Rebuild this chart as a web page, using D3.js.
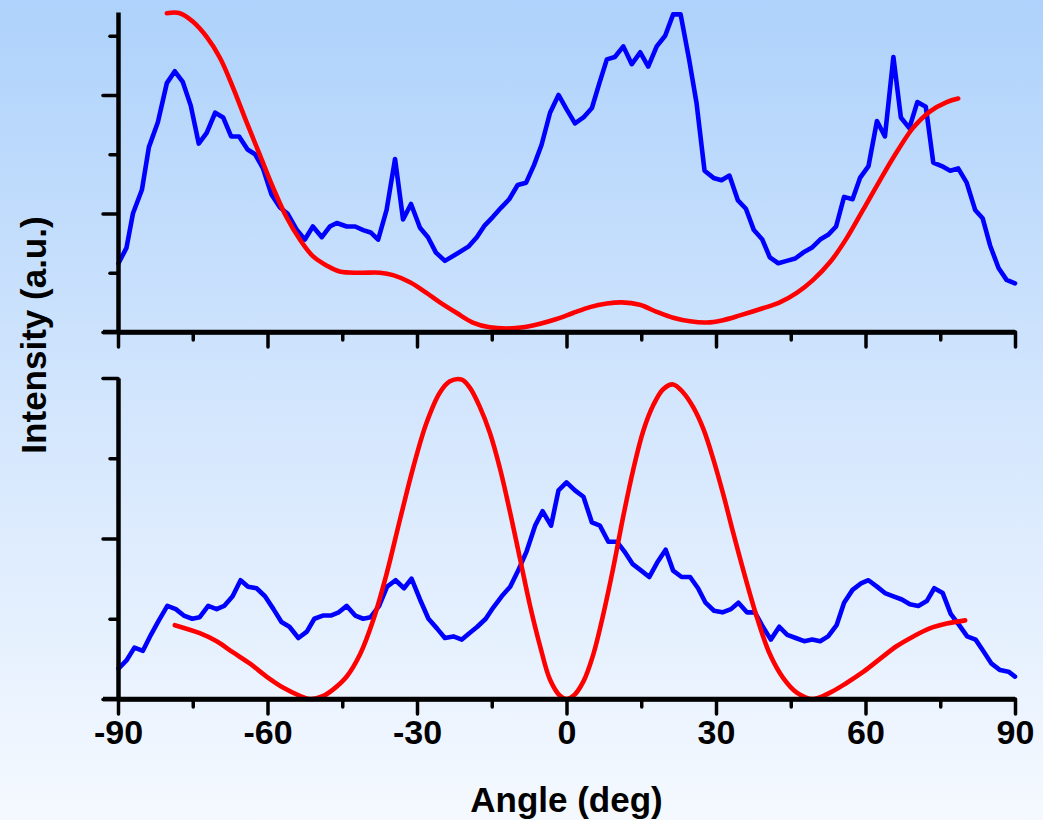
<!DOCTYPE html>
<html>
<head>
<meta charset="utf-8">
<script src="https://cdn.jsdelivr.net/npm/d3@7/dist/d3.min.js"></script>
<style>
  html, body { margin: 0; padding: 0; }
  body { width: 1043px; height: 820px; overflow: hidden; }
  svg { display: block; }
  text { font-family: "Liberation Sans", Arial, sans-serif; font-weight: bold; fill: #000; }
</style>
</head>
<body>
<svg id="chart" width="1043" height="820"></svg>
<script>
// ---------- DATA ----------
const xTickValues = [-90, -60, -30, 0, 30, 60, 90];
const xMinorTickValues = [-75, -45, -15, 15, 45, 75];
const xTickLabels = ["-90", "-60", "-30", "0", "30", "60", "90"];
const xLabel = "Angle (deg)";
const yLabel = "Intensity (a.u.)";

// top panel, measured (blue)
const topMeasuredAngle = [-89.9,-88.3,-87.0,-85.2,-83.8,-82.0,-80.2,-78.6,-77.0,-75.4,-73.8,-72.2,-70.5,-68.9,-67.3,-65.7,-64.0,-62.5,-60.9,-59.2,-57.5,-56.0,-54.1,-52.5,-50.9,-49.1,-47.5,-46.1,-44.1,-42.4,-40.8,-39.3,-37.8,-36.1,-34.4,-32.8,-31.2,-29.4,-27.8,-26.2,-24.4,-22.0,-19.7,-18.0,-16.4,-14.8,-13.1,-11.5,-9.8,-8.1,-6.5,-5.0,-3.3,-1.6,0.0,1.7,3.4,5.1,6.6,8.1,9.7,11.4,13.1,14.8,16.4,18.1,19.8,21.4,22.9,24.6,26.1,27.7,29.5,31.1,32.7,34.4,36.0,37.6,39.3,40.8,42.5,44.2,45.9,47.5,49.2,50.9,52.5,54.1,55.7,57.4,58.9,60.6,62.3,63.9,65.6,67.1,68.8,70.4,72.1,73.6,75.3,77.0,78.6,80.3,82.0,83.5,85.0,86.7,88.3,90.0];
const topMeasuredValue = [0.58,0.71,1.00,1.20,1.56,1.77,2.10,2.20,2.11,1.91,1.59,1.68,1.85,1.81,1.65,1.65,1.54,1.50,1.38,1.16,1.05,1.00,0.86,0.78,0.89,0.80,0.89,0.92,0.89,0.89,0.86,0.84,0.78,1.03,1.46,0.95,1.08,0.88,0.80,0.67,0.60,0.66,0.72,0.80,0.90,0.97,1.05,1.12,1.24,1.26,1.41,1.58,1.85,2.00,1.88,1.76,1.81,1.89,2.10,2.30,2.32,2.41,2.26,2.36,2.24,2.41,2.50,2.68,2.68,2.30,1.93,1.36,1.30,1.28,1.32,1.11,1.04,0.86,0.78,0.63,0.58,0.60,0.62,0.67,0.71,0.78,0.82,0.89,1.14,1.12,1.30,1.40,1.78,1.65,2.32,1.81,1.72,1.94,1.90,1.43,1.40,1.36,1.38,1.26,1.03,0.96,0.73,0.54,0.44,0.41];

// top panel, simulated (red)
const topSimAngle = [-80.2,-77.6,-75.0,-72.2,-69.5,-66.9,-64.2,-61.5,-58.9,-56.2,-53.5,-50.9,-48.1,-45.5,-41.4,-37.4,-34.8,-31.4,-28.1,-25.4,-22.0,-18.8,-15.4,-12.0,-8.7,-5.3,-2.0,1.3,4.7,8.1,11.1,14.7,18.1,21.4,24.8,28.1,31.4,34.8,39.4,42.8,46.2,49.5,52.9,56.2,59.5,62.9,66.3,69.5,72.9,76.3,78.6];
const topSimValue = [2.69,2.69,2.62,2.49,2.31,2.06,1.77,1.49,1.22,0.97,0.78,0.64,0.56,0.51,0.50,0.50,0.48,0.42,0.33,0.25,0.16,0.08,0.04,0.03,0.04,0.07,0.11,0.16,0.21,0.24,0.25,0.23,0.17,0.12,0.09,0.08,0.10,0.14,0.20,0.25,0.33,0.44,0.59,0.79,1.03,1.28,1.52,1.72,1.86,1.94,1.97];

// bottom panel, measured (blue)
const botMeasuredAngle = [-89.9,-88.3,-86.7,-85.0,-83.4,-81.8,-80.1,-78.4,-76.8,-75.1,-73.6,-71.9,-70.2,-68.7,-67.0,-65.4,-63.9,-62.2,-60.5,-58.8,-57.2,-55.6,-53.8,-52.1,-50.6,-48.9,-47.3,-45.7,-44.1,-42.4,-40.8,-39.3,-37.6,-36.0,-34.3,-32.6,-31.1,-29.4,-27.7,-26.0,-24.4,-22.7,-21.0,-19.5,-17.9,-16.2,-14.7,-13.0,-11.3,-9.7,-8.0,-6.3,-4.8,-3.1,-1.6,0.0,1.7,3.4,5.1,6.7,8.4,10.1,11.6,13.3,15.0,16.6,18.2,19.9,21.4,23.1,24.8,26.4,27.9,29.6,31.3,33.0,34.5,36.2,37.8,39.4,41.0,42.7,44.3,46.0,47.7,49.3,50.9,52.5,54.2,55.7,57.4,59.1,60.6,62.3,63.9,65.6,67.3,68.9,70.6,72.3,73.8,75.5,77.1,78.8,80.4,82.1,83.6,85.3,87.0,88.7,90.0];
const botMeasuredValue = [0.19,0.24,0.32,0.30,0.40,0.49,0.58,0.56,0.52,0.50,0.51,0.58,0.56,0.58,0.64,0.74,0.70,0.69,0.64,0.56,0.48,0.45,0.38,0.42,0.50,0.52,0.52,0.54,0.58,0.52,0.50,0.51,0.58,0.70,0.74,0.69,0.75,0.62,0.50,0.44,0.38,0.39,0.37,0.41,0.45,0.50,0.57,0.64,0.70,0.80,0.92,1.08,1.17,1.08,1.30,1.35,1.30,1.26,1.10,1.08,0.98,0.98,0.92,0.84,0.80,0.76,0.85,0.93,0.80,0.76,0.76,0.69,0.60,0.55,0.54,0.56,0.60,0.54,0.54,0.45,0.37,0.45,0.40,0.38,0.36,0.37,0.36,0.39,0.46,0.60,0.68,0.72,0.74,0.70,0.66,0.64,0.62,0.59,0.58,0.61,0.69,0.66,0.53,0.46,0.39,0.37,0.30,0.22,0.18,0.17,0.14];

// bottom panel, simulated (red)
const botSimAngle = [-78.6,-73.6,-70.2,-66.9,-63.5,-60.2,-56.8,-53.5,-51.5,-48.8,-46.8,-44.1,-41.4,-38.8,-36.1,-33.4,-30.7,-28.1,-25.4,-23.4,-21.0,-19.4,-17.4,-15.4,-13.3,-11.3,-9.3,-7.3,-5.3,-3.3,-1.3,0.0,1.4,3.4,5.4,7.4,9.4,11.4,13.4,15.4,17.4,19.4,21.4,23.4,25.4,27.5,29.5,31.5,33.5,35.5,38.2,40.8,43.5,46.2,49.5,52.9,56.2,59.6,62.9,66.3,69.6,72.9,76.3,80.0];
const botSimValue = [0.46,0.41,0.36,0.29,0.22,0.14,0.07,0.02,0.00,0.02,0.06,0.14,0.28,0.49,0.78,1.12,1.45,1.72,1.91,1.98,1.99,1.94,1.82,1.66,1.43,1.16,0.87,0.58,0.33,0.12,0.02,0.00,0.02,0.11,0.28,0.53,0.82,1.14,1.43,1.67,1.83,1.93,1.96,1.91,1.82,1.68,1.49,1.27,1.03,0.80,0.51,0.28,0.13,0.04,0.00,0.04,0.10,0.17,0.25,0.33,0.39,0.44,0.47,0.49];

const topYMajor = [0, 1, 2];
const topYMinor = [0.5, 1.5, 2.5];
const botYMajor = [0, 1, 2];
const botYMinor = [0.5, 1.5];

// ---------- DRAWING ----------
const svg = d3.select("#chart");
const W = 1043, H = 820;

const defs = svg.append("defs");
const grad = defs.append("linearGradient").attr("id", "bg").attr("x1", 0).attr("y1", 0).attr("x2", 0).attr("y2", 1);
grad.append("stop").attr("offset", "0%").attr("stop-color", "#aed2fb");
grad.append("stop").attr("offset", "50%").attr("stop-color", "#d3e6fd");
grad.append("stop").attr("offset", "100%").attr("stop-color", "#f5f9ff");
svg.append("rect").attr("width", W).attr("height", H).attr("fill", "url(#bg)");

const x = d3.scaleLinear().domain([-90, 90]).range([118, 1015]);
const yTop = d3.scaleLinear().domain([0, 2.7]).range([332, 12]);
const yBot = d3.scaleLinear().domain([0, 2]).range([699, 378]);

function zip(a, b) { return a.map((v, i) => [v, b[i]]); }

function drawPanel(y, yMajor, yMinor, measured, sim, showLabels) {
  const g = svg.append("g");
  const lineLin = d3.line().x(d => x(d[0])).y(d => y(d[1]));
  const lineSmooth = d3.line().x(d => x(d[0])).y(d => y(d[1])).curve(d3.curveCatmullRom.alpha(0.5));
  g.append("path").datum(measured).attr("d", lineLin)
    .attr("fill", "none").attr("stroke", "#0000ff").attr("stroke-width", 4.6)
    .attr("stroke-linejoin", "round").attr("stroke-linecap", "round");
  g.append("path").datum(sim).attr("d", lineSmooth)
    .attr("fill", "none").attr("stroke", "#ff0000").attr("stroke-width", 4.6)
    .attr("stroke-linejoin", "round").attr("stroke-linecap", "round");

  const y0 = y(0);
  const xMinor = g.append("g").attr("transform", `translate(0,${y0})`)
    .call(d3.axisBottom(x).tickValues(xMinorTickValues).tickSize(8).tickFormat(""));
  const xMajor = g.append("g").attr("transform", `translate(0,${y0})`)
    .call(d3.axisBottom(x).tickValues(xTickValues).tickSize(15).tickSizeOuter(0).tickPadding(6)
      .tickFormat((d, i) => showLabels ? xTickLabels[i] : ""));
  const yMin = g.append("g").attr("transform", `translate(${x(-90)},0)`)
    .call(d3.axisLeft(y).tickValues(yMinor).tickSize(8).tickFormat(""));
  const yMaj = g.append("g").attr("transform", `translate(${x(-90)},0)`)
    .call(d3.axisLeft(y).tickValues(yMajor).tickSize(15).tickSizeOuter(0).tickFormat(""));

  [xMinor, xMajor, yMin, yMaj].forEach(a => {
    a.select(".domain").attr("stroke", "#000").attr("stroke-width", 4.5);
    a.selectAll(".tick line").attr("stroke", "#000").attr("stroke-width", 3.5).attr("stroke-linecap", "round");
  });
  xMinor.select(".domain").remove();
  yMin.select(".domain").remove();
  xMajor.selectAll(".tick text")
    .attr("font-family", '"Liberation Sans", Arial, sans-serif')
    .attr("font-weight", "bold").attr("font-size", 34).attr("fill", "#000");
  g.append("line").attr("x1", x(-90) - 15).attr("x2", x(90)).attr("y1", y0).attr("y2", y0)
    .attr("stroke", "#000").attr("stroke-width", 4.5);
}

drawPanel(yTop, topYMajor, topYMinor, zip(topMeasuredAngle, topMeasuredValue), zip(topSimAngle, topSimValue), false);
drawPanel(yBot, botYMajor, botYMinor, zip(botMeasuredAngle, botMeasuredValue), zip(botSimAngle, botSimValue), true);

svg.append("text").attr("x", x(0)).attr("y", 812)
  .attr("text-anchor", "middle").attr("font-size", 35).text(xLabel);

svg.append("text").attr("transform", "translate(46,335) rotate(-90)")
  .attr("text-anchor", "middle").attr("font-size", 35).text(yLabel);
</script>
</body>
</html>
